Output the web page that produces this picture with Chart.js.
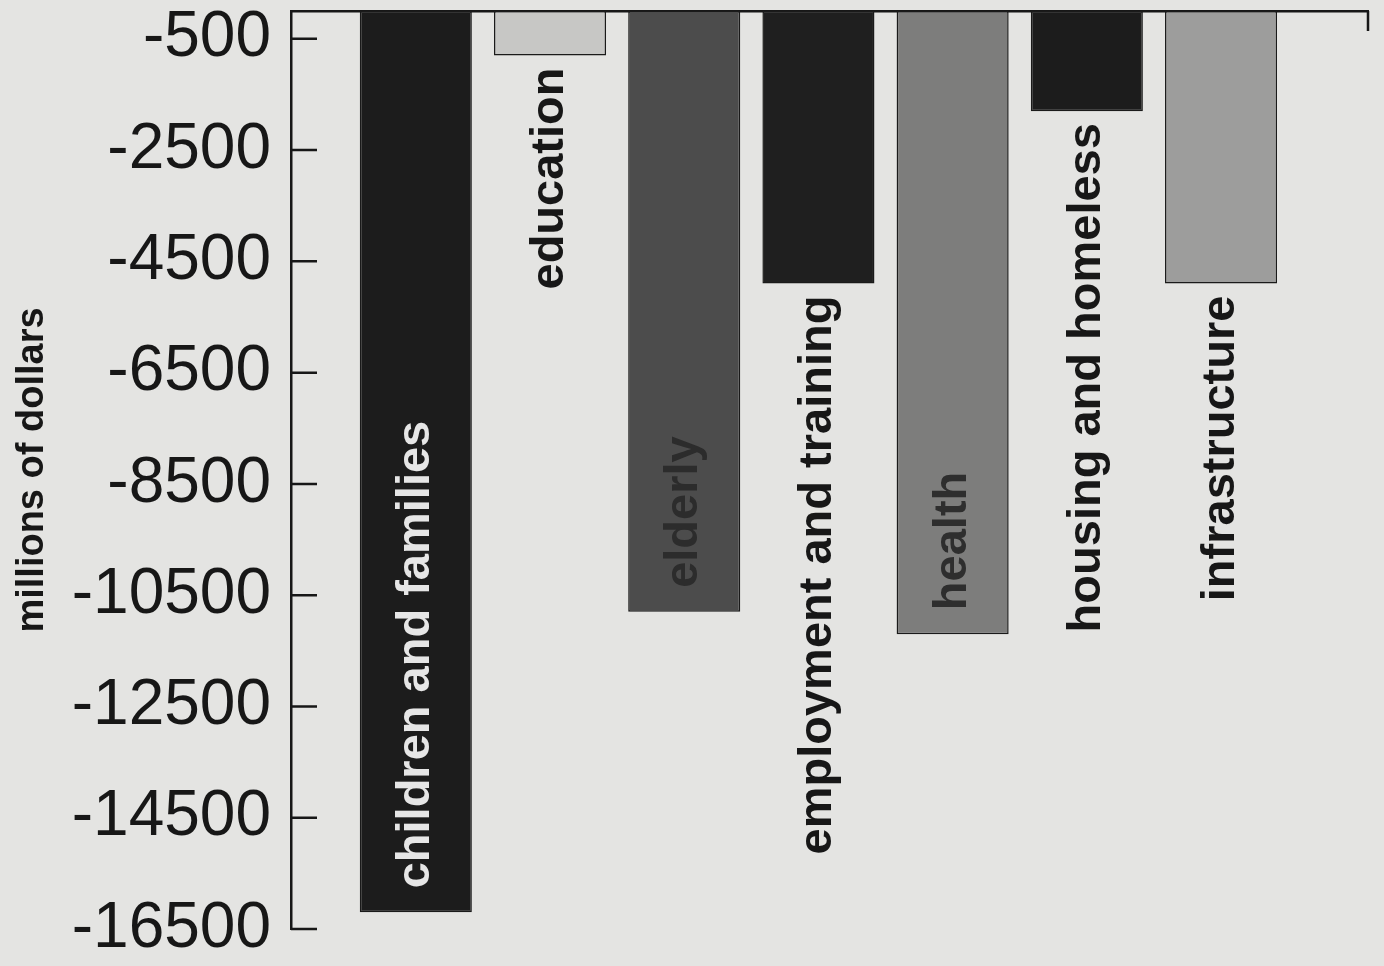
<!DOCTYPE html>
<html>
<head>
<meta charset="utf-8">
<script src="https://cdn.jsdelivr.net/npm/chart.js@4"></script>
<style>
  html, body { margin: 0; padding: 0; background: #e4e4e2; }
  #wrap { width: 1384px; height: 966px; position: relative; }
</style>
</head>
<body>
<div id="wrap"><canvas id="c"></canvas></div>
<script>
// ---- data ----
const categories = ['children and families', 'education', 'elderly', 'employment and training', 'health', 'housing and homeless', 'infrastructure'];
const changes = [-16200, -800, -10800, -4900, -11200, -1800, -4900];
const yTickValues = [-500, -2500, -4500, -6500, -8500, -10500, -12500, -14500, -16500];
const yAxisTitle = 'millions of dollars';

// ---- styles ----
const FONT = '"Liberation Sans", Arial, Helvetica, sans-serif';
const INK = '#171717';
const barFill = ['#1c1c1c', '#c7c7c5', '#4c4c4c', '#1f1f1f', '#7d7d7c', '#1c1c1c', '#9d9d9c'];
const insideInk = ['#e6e6e6', INK, '#2c2c2c', INK, '#2e2e2e', INK, INK];

const barLabels = {
  id: 'barLabels',
  afterDatasetsDraw(chart) {
    const ctx = chart.ctx;
    const meta = chart.getDatasetMeta(0);
    ctx.save();
    ctx.font = 'bold 47px ' + FONT;
    ctx.textBaseline = 'middle';
    const gapIn = 24, gapOut = 12;
    meta.data.forEach((bar, i) => {
      const text = categories[i];
      const w = ctx.measureText(text).width;
      const bottom = Math.max(bar.y, bar.base);
      const top = Math.min(bar.y, bar.base);
      ctx.save();
      if (bottom - top - gapIn - 20 >= w) {
        ctx.translate(bar.x, bottom - gapIn);
        ctx.rotate(-Math.PI / 2);
        ctx.textAlign = 'left';
        ctx.fillStyle = insideInk[i];
      } else {
        ctx.translate(bar.x, bottom + gapOut);
        ctx.rotate(-Math.PI / 2);
        ctx.textAlign = 'right';
        ctx.fillStyle = INK;
      }
      ctx.fillText(text, 0, 0);
      ctx.restore();
    });
    ctx.restore();
  }
};

const frameTicks = {
  id: 'frameTicks',
  afterDraw(chart) {
    const ctx = chart.ctx;
    const a = chart.chartArea;
    const y = chart.scales.y;
    ctx.save();
    ctx.strokeStyle = INK;
    ctx.lineWidth = 2.5;
    ctx.beginPath();
    y.ticks.forEach(t => {
      const py = y.getPixelForValue(t.value);
      ctx.moveTo(a.left, py);
      ctx.lineTo(a.left + 26, py);
    });
    ctx.moveTo(a.right, a.top);
    ctx.lineTo(a.right, a.top + 20);
    ctx.stroke();
    ctx.restore();
  }
};

new Chart(document.getElementById('c'), {
  type: 'bar',
  data: {
    labels: categories,
    datasets: [{
      data: changes.map((v, i) => ({ x: i + 1, y: v })),
      backgroundColor: barFill,
      borderColor: '#1a1a1a',
      borderWidth: 1.5,
      borderSkipped: false,
      categoryPercentage: 1,
      barPercentage: 0.835
    }]
  },
  options: {
    responsive: true,
    maintainAspectRatio: false,
    animation: false,
    layout: { padding: { top: 11, right: 16, bottom: 37, left: 0 } },
    plugins: { legend: { display: false }, tooltip: { enabled: false } },
    scales: {
      x: {
        type: 'linear',
        position: 'top',
        offset: false,
        min: 0.07,
        max: 8.095,
        afterBuildTicks: s => { s.ticks = categories.map((_, i) => ({ value: i + 1 })); },
        afterFit: s => { s.height = 0; s.paddingLeft = 0; s.paddingRight = 0; },
        ticks: { display: false },
        grid: { display: false, drawTicks: false },
        border: { display: true, color: INK, width: 2.5 }
      },
      y: {
        type: 'linear',
        position: 'left',
        min: -16500,
        max: 0,
        afterBuildTicks: s => { s.ticks = yTickValues.map(v => ({ value: v })); },
        afterFit: s => { s.width = 291; s.paddingTop = 0; s.paddingBottom = 0; },
        grid: { display: false, drawTicks: false },
        border: { display: true, color: INK, width: 2.5 },
        ticks: {
          padding: 20,
          color: INK,
          font: { family: FONT, size: 64 },
          callback: v => String(v)
        },
        title: {
          display: true,
          text: yAxisTitle,
          color: INK,
          font: { family: FONT, size: 38, weight: 'bold' },
          padding: { top: 10, bottom: 0 }
        }
      }
    }
  },
  plugins: [barLabels, frameTicks]
});
</script>
</body>
</html>
